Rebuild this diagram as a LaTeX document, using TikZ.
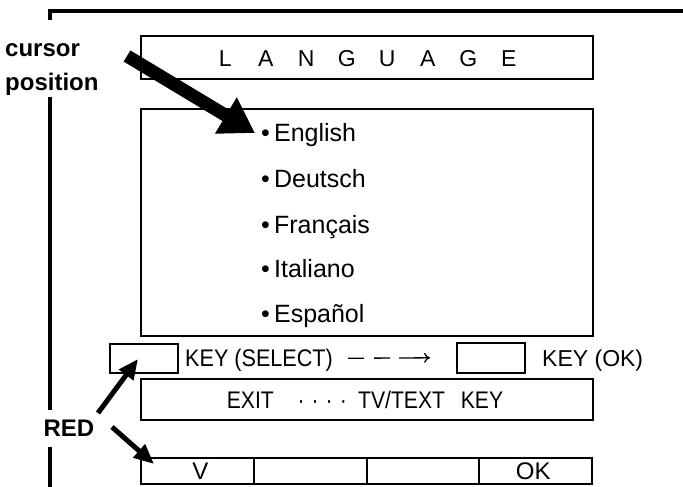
\documentclass[tikz,border=0pt]{standalone}
\usepackage{fontspec}
\setmainfont{Liberation Sans}
\usetikzlibrary{arrows.meta}
\begin{document}
\begin{tikzpicture}[x=1pt,y=-1pt,
  frame/.style={line width=3.5pt},
  panel/.style={draw,line width=1.6pt,rectangle,inner sep=0pt,anchor=north west},
  lab/.style={font=\fontsize{24}{26}\selectfont\bfseries,inner sep=0pt,anchor=base west},
  txt/.style={font=\fontsize{24}{26}\selectfont,inner sep=0pt},
  item/.style={font=\fontsize{25}{26}\selectfont,inner sep=0pt,anchor=base west},
  bigarrow/.style={line width=13pt,-{Triangle[length=34pt,width=40pt]}},
  redarrow/.style={line width=5pt,-{Triangle[length=20pt,width=17pt]}},
]
\useasboundingbox (0,0) rectangle (683,487);
% frame
\draw[frame] (50,20) -- (50,11) -- (683,11);
\draw[frame] (50,97) -- (50,410);
\draw[frame] (50,447) -- (50,487);
% title
\node[panel,minimum width=452pt,minimum height=43pt] (title) at (140,35) {};
\node[font=\fontsize{23}{26}\selectfont,inner sep=0pt,anchor=base] (titletext) at (367,66.5)
  {\makebox[40.5pt]{L}\makebox[40.5pt]{A}\makebox[40.5pt]{N}\makebox[40.5pt]{G}\makebox[40.5pt]{U}\makebox[40.5pt]{A}\makebox[40.5pt]{G}\makebox[40.5pt]{E}};
% list
\node[panel,minimum width=452pt,minimum height=227pt] (list) at (140,108) {};
\node[item] (en) at (261,141) {•\,English};
\node[item] (de) at (261,187) {•\,Deutsch};
\node[item] (fr) at (261,233) {•\,Français};
\node[item] (it) at (261,277) {•\,Italiano};
\node[item] (es) at (261,322) {•\,Español};
% key row
\node[panel,minimum width=68pt,minimum height=29pt] (selbox) at (109,343) {};
\node[txt,anchor=base west] (seltext) at (185,366) {\scalebox{0.9}[1]{KEY (SELECT)}};
\node[panel,minimum width=68pt,minimum height=30pt] (okbox) at (456,342) {};
\node[font=\fontsize{23}{26}\selectfont,inner sep=0pt,anchor=base west] (oktext) at (542,366) {KEY (OK)};
\draw[line width=1.3pt,dash pattern=on 16pt off 10pt on 16pt off 9pt on 40pt off 9pt,-{To[length=6pt,width=10pt]}] ([xshift=15pt]seltext.east |- selbox.center) -- ([xshift=-26pt]okbox.west);
% exit
\node[panel,minimum width=452pt,minimum height=41pt] (exitbox) at (140,378) {};
\node[txt,anchor=base] (exittext) at (365,408) {\scalebox{0.88}[1]{EXIT\hspace{27pt}·\hspace{8pt}·\hspace{8pt}·\hspace{8pt}·\hspace{13pt}TV/TEXT\hspace{18pt}KEY}};
% bottom bar
\node[panel,minimum width=113pt,minimum height=26pt] (b1) at (140,457) {};
\node[panel,minimum width=113pt,minimum height=26pt] (b2) at (253,457) {};
\node[panel,minimum width=112pt,minimum height=26pt] (b3) at (366,457) {};
\node[panel,minimum width=113pt,minimum height=26pt] (b4) at (478,457) {};
\node[txt] (vtext) at ([xshift=3pt]b1.center) {V};
\node[txt] (oktxt2) at ([xshift=-2pt]b4.center) {OK};
% labels
\node[lab] (cursor) at (5,57) {cursor};
\node[lab] (position) at (5,90) {position};
\node[lab,anchor=center] (red) at (69,428) {RED};
% arrows
\coordinate (curtail) at (127,56);
\coordinate (curtip) at (255,133);
\draw[bigarrow] (curtail) -- (curtip);
\coordinate (r1tail) at (98,413);
\coordinate (r1tip) at (138,359);
\coordinate (r2tail) at (112,427);
\coordinate (r2tip) at (154,464);
\draw[redarrow] (r1tail) -- (r1tip);
\draw[redarrow] (r2tail) -- (r2tip);
\end{tikzpicture}
\end{document}
